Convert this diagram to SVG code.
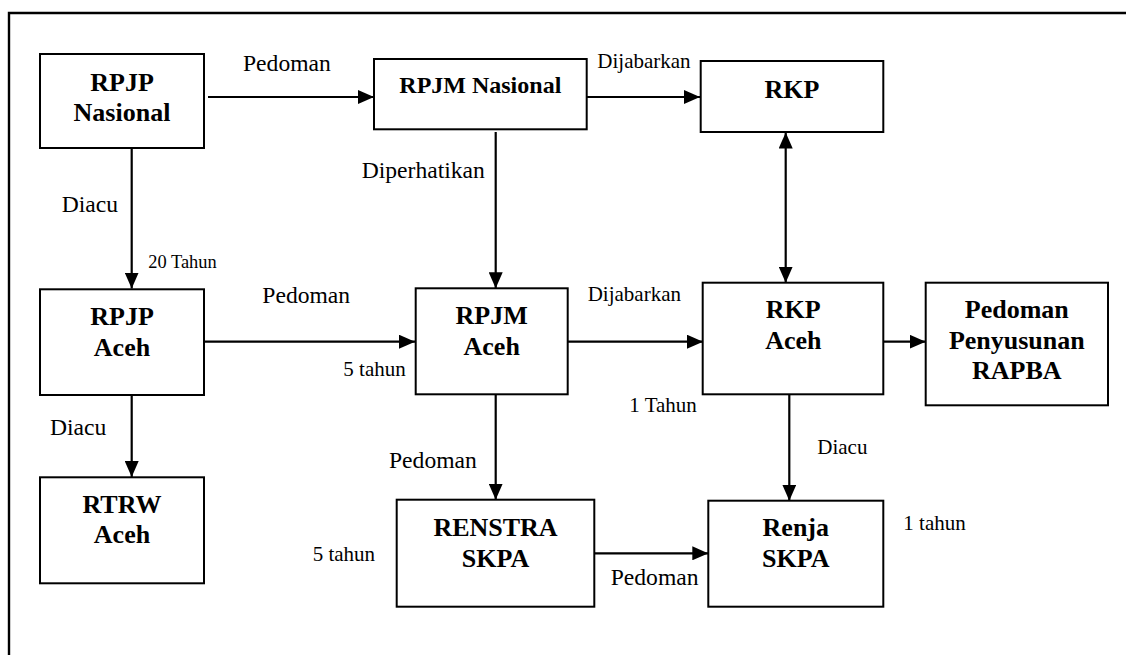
<svg xmlns="http://www.w3.org/2000/svg" width="1126" height="655" viewBox="0 0 1126 655">
<style>
text{font-family:'Liberation Serif','Tinos','Times New Roman','DejaVu Serif',serif;fill:#000}
.box{fill:#fff;stroke:#000;stroke-width:2}
.t{font-weight:bold;font-size:26px;text-anchor:middle}
.l{font-size:23.6px}
.s{font-size:21px}
.c{stroke:#000;stroke-width:2.2;fill:none;marker-end:url(#ah)}
</style>
<defs>
<marker id="ah" markerWidth="16" markerHeight="14" refX="16" refY="7" orient="auto" markerUnits="userSpaceOnUse">
<path d="M0,0 L16,7 L0,14 Z" fill="#000"/>
</marker>
<marker id="as" markerWidth="16" markerHeight="14" refX="0" refY="7" orient="auto" markerUnits="userSpaceOnUse">
<path d="M16,0 L0,7 L16,14 Z" fill="#000"/>
</marker>
</defs>
<path d="M9,655 L9,13 L1126,13" fill="none" stroke="#000" stroke-width="2.4"/>
<g id="connectors">
<line class="c" x1="208" y1="97" x2="374" y2="97"/>
<line class="c" x1="587" y1="97" x2="700" y2="97"/>
<line class="c" x1="495.7" y1="132" x2="495.7" y2="288.3"/>
<line class="c" x1="131.7" y1="148" x2="131.7" y2="288.5"/>
<line class="c" x1="204" y1="341.7" x2="415" y2="341.7"/>
<line class="c" x1="131.7" y1="395" x2="131.7" y2="477"/>
<line class="c" x1="568" y1="341.7" x2="703" y2="341.7"/>
<line class="c" x1="495.7" y1="394.3" x2="495.7" y2="499.7"/>
<line class="c" x1="594.3" y1="553.3" x2="708.3" y2="553.3"/>
<line class="c" x1="785.7" y1="132.5" x2="785.7" y2="282.7" style="marker-start:url(#as)"/>
<line class="c" x1="883.3" y1="341.7" x2="925.7" y2="341.7"/>
<line class="c" x1="789.3" y1="394.3" x2="789.3" y2="500.7"/>
<text class="l" x="243" y="70.7">Pedoman</text>
<text class="s" x="597.3" y="68.3">Dijabarkan</text>
<text class="l" x="361.7" y="178.3">Diperhatikan</text>
<text class="l" x="61.7" y="211.7">Diacu</text>
<text class="s" x="148.3" y="267.7" style="font-size:18.4px">20 Tahun</text>
<text class="l" x="262.3" y="303.3">Pedoman</text>
<text class="s" x="343.3" y="375.7">5 tahun</text>
<text class="l" x="50" y="435">Diacu</text>
<text class="s" x="587.7" y="300.7">Dijabarkan</text>
<text class="s" x="629.3" y="411.7">1 Tahun</text>
<text class="l" x="389" y="468.3">Pedoman</text>
<text class="s" x="312.7" y="560.7">5 tahun</text>
<text class="l" x="610.7" y="585">Pedoman</text>
<text class="s" x="817.3" y="454">Diacu</text>
<text class="s" x="903.3" y="530">1 tahun</text>
</g>
<g id="rpjp-nasional">
<rect class="box" x="40" y="54" width="164" height="94"/>
<text class="t" x="122" y="90.7">RPJP</text>
<text class="t" x="122" y="120.7">Nasional</text>
</g>
<g id="rpjm-nasional">
<rect class="box" x="374" y="59" width="212.7" height="70.3"/>
<text class="t" x="480.3" y="92.7" style="font-size:24px">RPJM Nasional</text>
</g>
<g id="rkp">
<rect class="box" x="700.7" y="61" width="182.6" height="71"/>
<text class="t" x="792" y="97.7">RKP</text>
</g>
<g id="rpjp-aceh">
<rect class="box" x="40" y="289.3" width="164" height="105.7"/>
<text class="t" x="122" y="325">RPJP</text>
<text class="t" x="122" y="355.7">Aceh</text>
</g>
<g id="rtrw-aceh">
<rect class="box" x="40" y="477.3" width="164" height="106"/>
<text class="t" x="122" y="513.3">RTRW</text>
<text class="t" x="122" y="543.3">Aceh</text>
</g>
<g id="rpjm-aceh">
<rect class="box" x="415.7" y="288.3" width="152" height="106"/>
<text class="t" x="491.7" y="324">RPJM</text>
<text class="t" x="491.7" y="355">Aceh</text>
</g>
<g id="renstra-skpa">
<rect class="box" x="396.7" y="499.7" width="197.6" height="107"/>
<text class="t" x="495.5" y="536">RENSTRA</text>
<text class="t" x="495.5" y="566.7">SKPA</text>
</g>
<g id="rkp-aceh">
<rect class="box" x="702.7" y="282.7" width="180.6" height="111.6"/>
<text class="t" x="793.3" y="318.3">RKP</text>
<text class="t" x="793.3" y="349">Aceh</text>
</g>
<g id="pedoman-rapba">
<rect class="box" x="925.7" y="282.7" width="182.3" height="122.6"/>
<text class="t" x="1016.8" y="318.3">Pedoman</text>
<text class="t" x="1016.8" y="349">Penyusunan</text>
<text class="t" x="1016.8" y="379">RAPBA</text>
</g>
<g id="renja-skpa">
<rect class="box" x="708.3" y="500.7" width="175" height="106"/>
<text class="t" x="795.8" y="536">Renja</text>
<text class="t" x="795.8" y="567">SKPA</text>
</g>
</svg>
